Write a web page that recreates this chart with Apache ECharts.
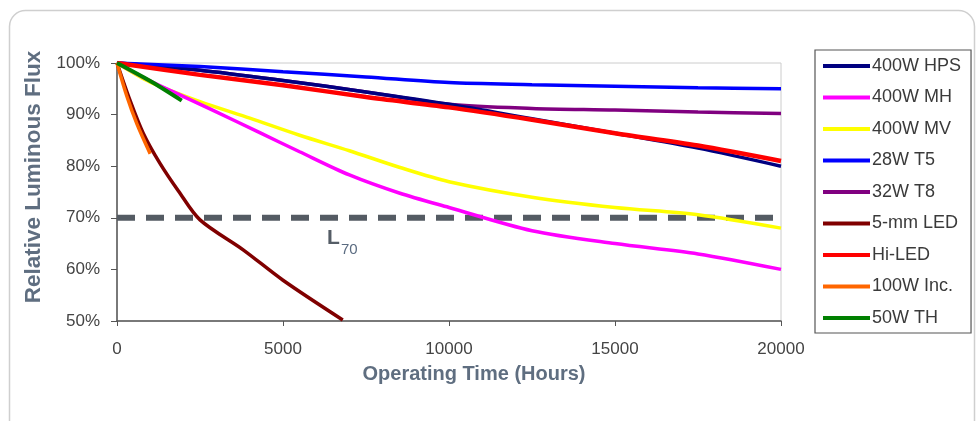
<!DOCTYPE html>
<html>
<head>
<meta charset="utf-8">
<script src="https://cdn.jsdelivr.net/npm/echarts@6/dist/echarts.min.js"></script>
<style>
html,body{margin:0;padding:0;background:#fff;}
#c{width:978px;height:421px;}
</style>
</head>
<body>
<div id="c"></div>
<script>
// Data: [hours, relative flux %]
var hps   = [[0,100],[2500,98.6],[5000,96.6],[7500,94.4],[10000,92],[12500,89.2],[15000,86.4],[17500,83.5],[20000,80]];
var mh    = [[0,100],[1000,96.5],[1700,94.4],[2800,91.1],[4300,86.5],[5500,82.8],[7000,78.3],[8500,74.8],[10000,72],[12500,67.5],[15000,65],[17500,63],[20000,60]];
var mv    = [[0,100],[1000,96.3],[2500,92.5],[4000,89.3],[5500,86],[7000,83],[8500,79.8],[10000,77],[12500,74],[15000,72],[17500,70.6],[20000,68]];
var t5    = [[0,100],[2500,99.3],[5000,98.3],[7500,97.3],[10000,96.2],[12500,95.8],[15000,95.5],[17500,95.2],[20000,95]];
var t8    = [[0,100],[2500,98.6],[5000,96.6],[7500,94.4],[10000,92],[12500,91.2],[15000,90.9],[17500,90.5],[20000,90.2]];
var led5  = [[0,100],[390,92.8],[790,86.4],[1290,80.6],[1850,75.2],[2500,69.6],[3800,63.8],[5000,57.9],[6800,50.2]];
var hiled = [[0,100],[2500,97.7],[5000,95.7],[7500,93.4],[10000,91.4],[12500,89],[15000,86.4],[17500,84],[20000,81]];
var inc   = [[0,100],[300,93.5],[600,88.2],[1000,82.4]];
var th    = [[0,100],[1000,96.5],[1950,92.7]];
var l70   = [[0,70],[20000,70]];
var xTicks = [0,5000,10000,15000,20000];

var names  = ['400W HPS','400W MH','400W MV','28W T5','32W T8','5-mm LED','Hi-LED','100W Inc.','50W TH'];
var sets   = [hps, mh, mv, t5, t8, led5, hiled, inc, th];
var colors = ['#000080','#ff00ff','#ffff00','#0000ff','#800080','#800000','#ff0000','#ff6600','#008000'];
var widths = [3.5,3.5,3.5,3.5,3.5,3.5,4.5,3.5,4];
var zs     = [4,3,2,5,3,6,7,8,9];

var FONT = 'Arial, "Liberation Sans", sans-serif';
var series = [];
series.push({
  type:'line', name:'L70', data:l70, symbol:'none', silent:true, z:1,
  lineStyle:{color:'#545b63', width:6, type:[18,11]}
});
names.forEach(function(n, i){
  series.push({
    type:'line', name:n, data:sets[i], symbol:'none', smooth:0.3,
    lineStyle:{color:colors[i], width:widths[i]}, itemStyle:{color:colors[i]}, z:zs[i]
  });
});

var chart = echarts.init(document.getElementById('c'));
chart.setOption({
  animation:false,
  backgroundColor:'#fff',
  graphic:[
    {type:'rect', shape:{x:9.5,y:10.5,width:965,height:430,r:16}, style:{fill:'none',stroke:'#cfcfcf',lineWidth:1.5}, z:0},
    {type:'text', left:327, top:228, style:{text:'L', font:'bold 21px ' + FONT, fill:'#555d66'}, z:10},
    {type:'text', left:341, top:242, style:{text:'70', font:'15px ' + FONT, fill:'#5a6b80'}, z:10}
  ],
  grid:{left:117, right:197, top:63, bottom:100, show:true, borderColor:'#cccccc', borderWidth:1},
  legend:{
    orient:'vertical', left:815, top:50,
    data:names,
    icon:'rect', itemWidth:47, itemHeight:4, itemGap:11.5,
    padding:[6,10,5,8],
    borderColor:'#555', borderWidth:1.2,
    textStyle:{fontSize:18, fontFamily:FONT, color:'#3a3a3a', lineHeight:20, padding:[0,0,0,-3]},
    selectedMode:false
  },
  xAxis:{
    type:'value', min:0, max:20000, interval:5000,
    name:'Operating Time (Hours)', nameLocation:'middle', nameGap:43,
    nameTextStyle:{fontSize:20, fontWeight:'bold', color:'#5f6e80', fontFamily:FONT, padding:[0,0,0,50]},
    axisLine:{lineStyle:{color:'#555', width:1.5}},
    axisTick:{show:true, length:5, lineStyle:{color:'#555'}},
    axisLabel:{fontSize:17, color:'#444', margin:20, fontFamily:FONT,
      formatter:function(v){ return xTicks.indexOf(v) >= 0 ? String(v) : ''; }},
    splitLine:{show:false}
  },
  yAxis:{
    type:'value', min:50, max:100, interval:10,
    name:'Relative Luminous Flux', nameLocation:'middle', nameGap:66,
    nameTextStyle:{fontSize:22.5, fontWeight:'bold', color:'#5f6e80', fontFamily:FONT, padding:[0,0,0,30]},
    axisLine:{show:true, lineStyle:{color:'#555', width:1.5}},
    axisTick:{show:true, length:6, lineStyle:{color:'#555'}},
    axisLabel:{fontSize:17, color:'#444', margin:17, formatter:'{value}%', fontFamily:FONT},
    splitLine:{show:false}
  },
  series:series
});
</script>
</body>
</html>
